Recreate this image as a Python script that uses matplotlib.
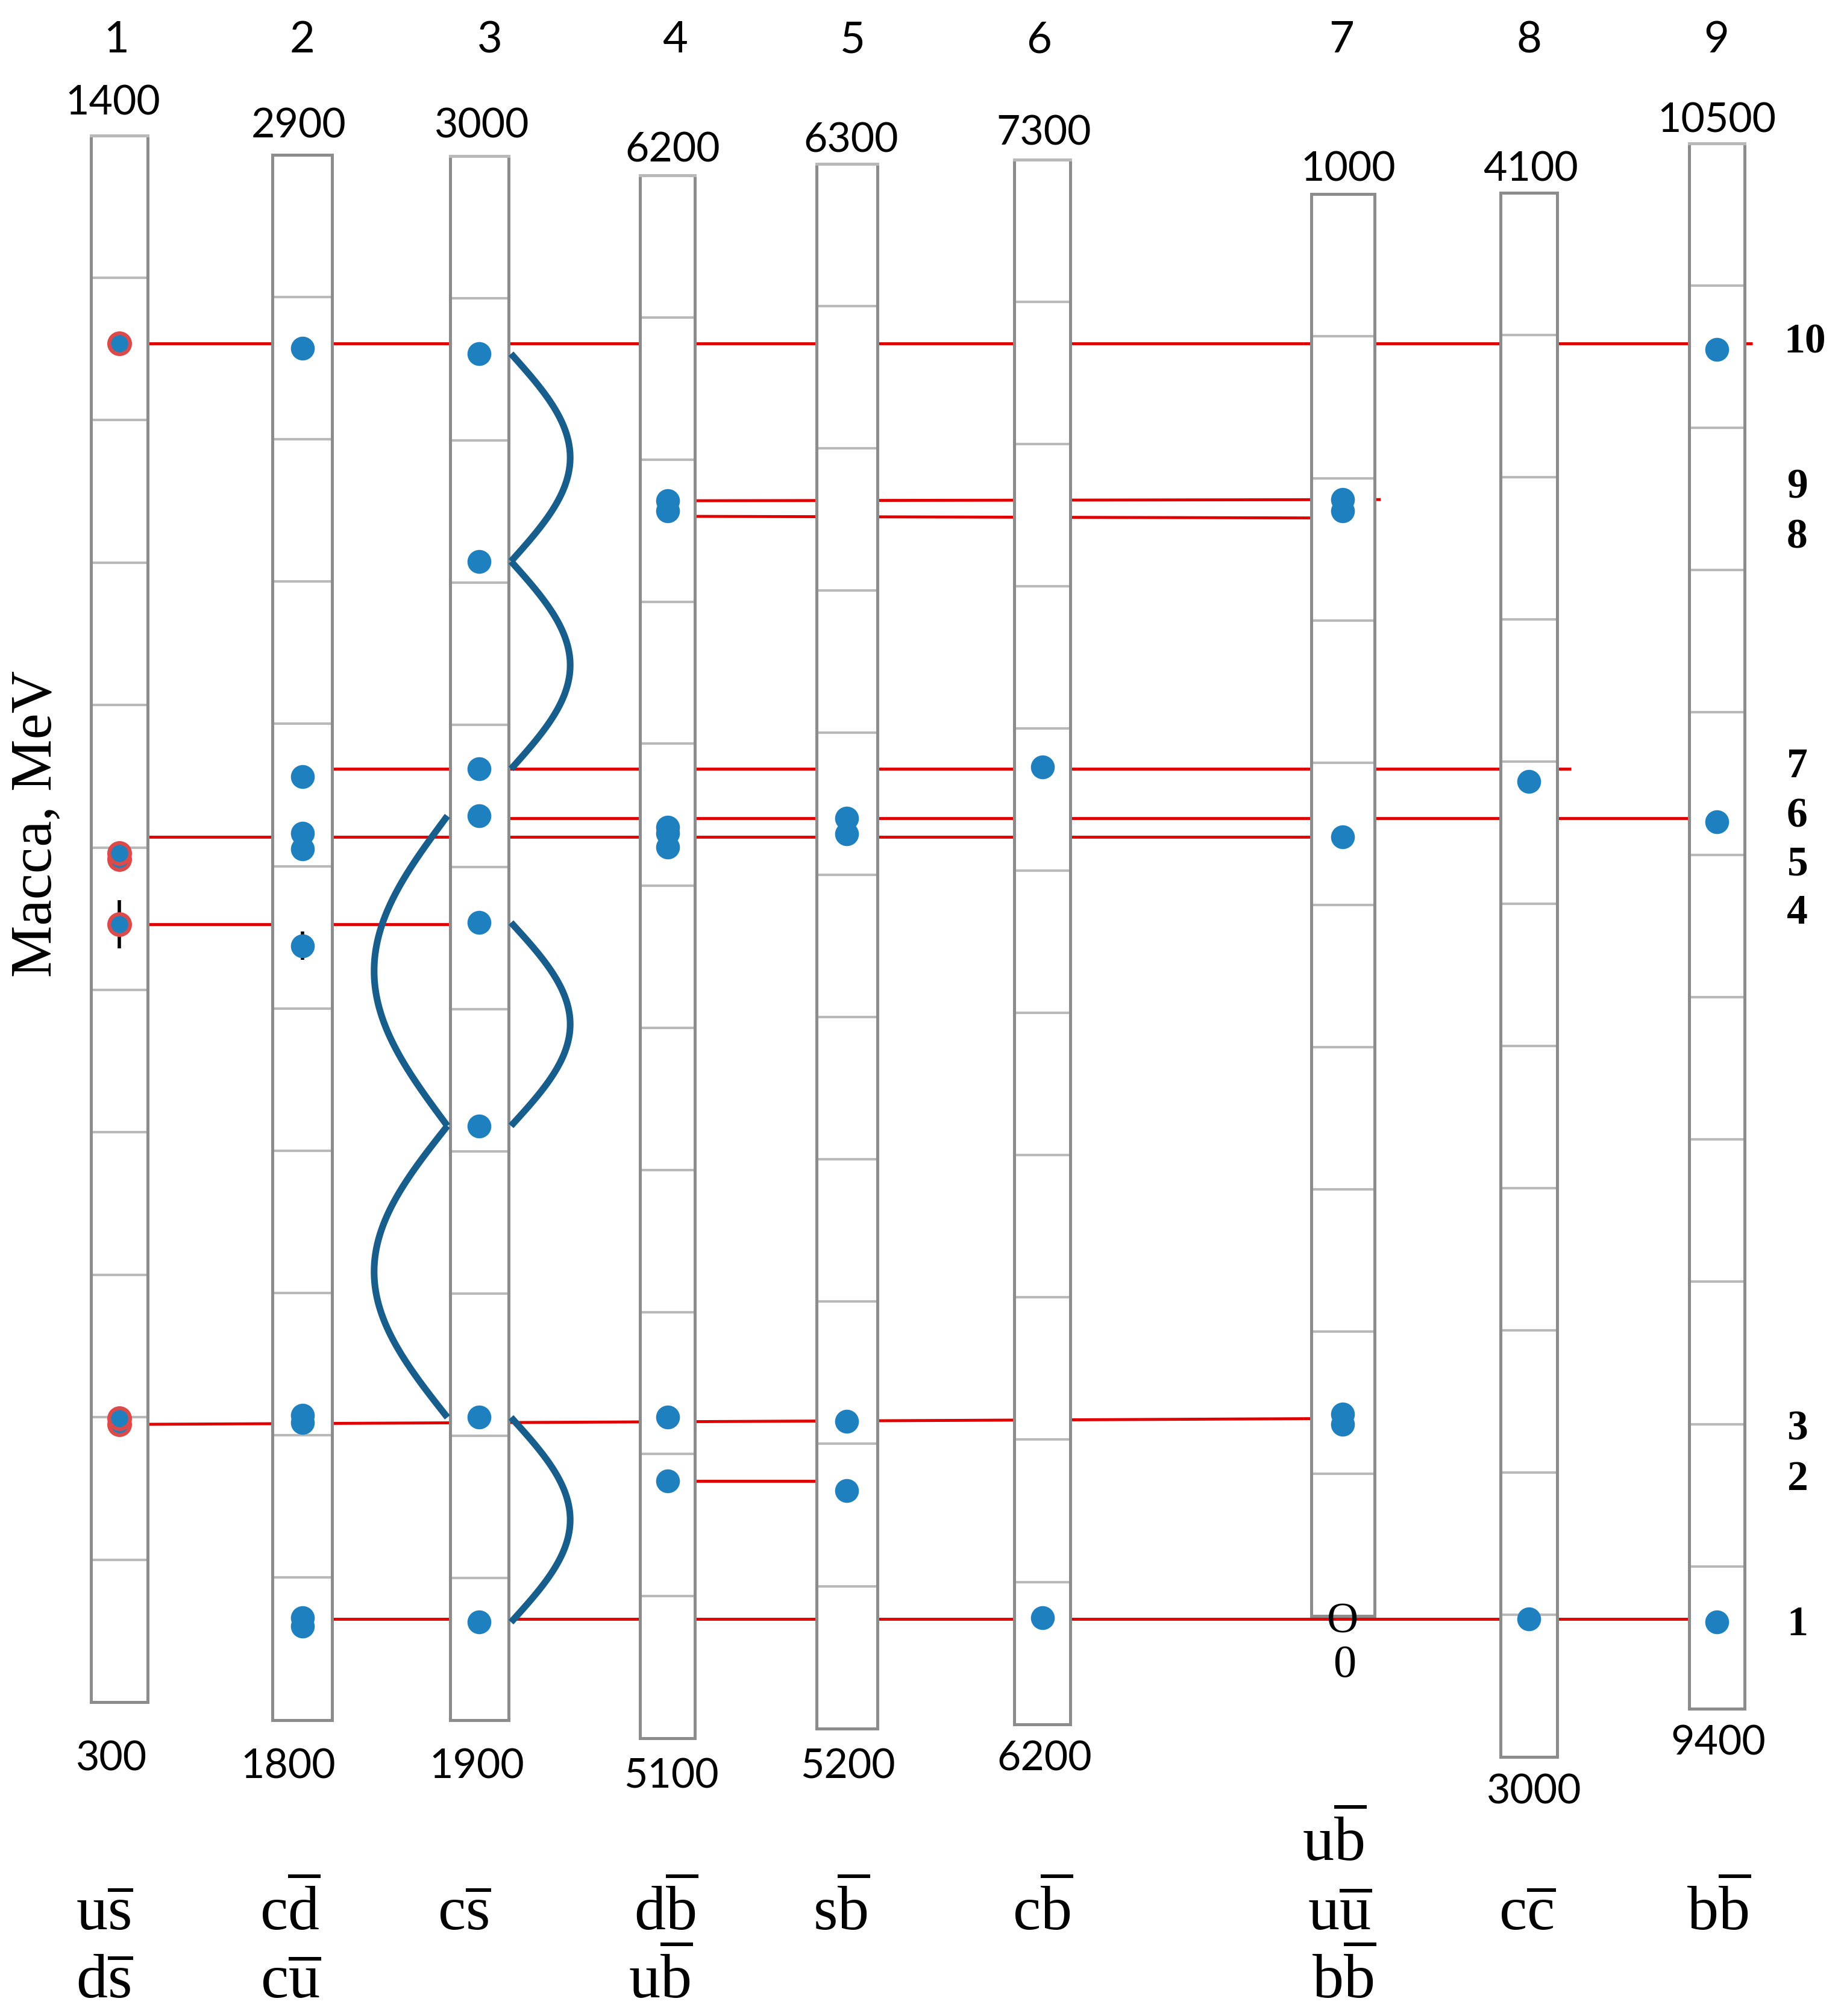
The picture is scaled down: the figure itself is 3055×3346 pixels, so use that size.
import numpy as np
import matplotlib
matplotlib.use("Agg")
import matplotlib.pyplot as plt

plt.rcParams["mathtext.fontset"] = "custom"
plt.rcParams["mathtext.rm"] = "Liberation Serif"
plt.rcParams["mathtext.it"] = "Liberation Serif:italic"
plt.rcParams["mathtext.bf"] = "Liberation Serif:bold"

# ---------------------------------------------------------------- data
col_ids = ["1", "2", "3", "4", "5", "6", "7", "8", "9"]
mass_lo = [300, 1800, 1900, 5100, 5200, 6200, 0, 3000, 9400]
mass_hi = [1400, 2900, 3000, 6200, 6300, 7300, 1000, 4100, 10500]
top_labels = ["1400", "2900", "3000", "6200", "6300", "7300", "1000", "4100", "10500"]
bottom_labels = ["300", "1800", "1900", "5100", "5200", "6200", "0", "3000", "9400"]

# meson masses (MeV) in each column
states = [
    [1254, 896, 892, 846, 499, 495],
    [2764, 2463, 2423, 2412, 2344, 2014, 2009, 1872, 1866],
    [2861, 2715, 2569, 2536, 2461, 2318, 2113, 1969],
    [5971, 5964, 5741, 5737, 5727, 5326, 5281],
    [5840, 5829, 5416, 5367],
    [6873, 6275],
    [785, 777, 548, 142, 135],
    [3686, 3097],
    [10355, 10023, 9461],
]
err_col = [0, 1]
err_mass = [846, 2344]
err_half = [17, 10]

quarks_top = ["", "", "", "", "", "", "ub", "", ""]
quarks_mid = ["us", "cd", "cs", "db", "sb", "cb", "uu", "cc", "bb"]
quarks_bot = ["ds", "cu", "", "ub", "", "", "bb", "", ""]

# level lines: first / last column and (column, mass) anchors at both ends
level_names = ["10", "9", "8", "7", "6", "5", "4", "3", "2", "1"]
level_from = [0, 3, 3, 1, 2, 0, 0, 0, 3, 1]
level_to = [8, 6, 6, 7, 8, 6, 2, 6, 4, 8]
level_anchor_a = [(0, 1254), (3, 5971), (3, 5960), (2, 2569), (4, 5840),
                  (6, 548), (0, 846), (0, 495), (3, 5281), (7, 3097)]
level_anchor_b = [(0, 1254), (6, 785), (6, 772), (2, 2569), (4, 5840),
                  (6, 548), (0, 846), (6, 139), (3, 5281), (7, 3097)]

# transitions in the c s-bar column, drawn as arcs
arc_lo = [1969, 2318, 2569, 2715, 2113, 2318]
arc_hi = [2113, 2461, 2715, 2861, 2318, 2536]
arc_side = [1, 1, 1, 1, -1, -1]

# -------------------------------------------------------------- layout
W, H = 1432, 1568  # layout units
col_x0 = [71, 212, 350, 498, 635, 789, 1020, 1167, 1314]
col_x1 = [115, 258.5, 395.5, 540.5, 682.5, 832.5, 1069, 1211, 1357]
col_y0 = [105.3, 120.3, 121.4, 136.4, 127.3, 124, 150.7, 149.8, 111.3]
col_y1 = [1323.8, 1337.7, 1338, 1352, 1344.3, 1341, 1257, 1366.6, 1329]
top_dark = [False, True, False, False, False, False, True, True, False]

id_x = [90.4, 235, 380.8, 525, 663, 808, 1043.6, 1189.6, 1335]
top_lbl_x = [88, 232.3, 374.5, 523, 662, 812, 1048.6, 1190.8, 1335.4]
top_lbl_y = [89.5, 107.1, 107.1, 126, 118.5, 112.5, 140.6, 140.6, 103]
bot_lbl_x = [86.5, 224.2, 371, 522, 659.6, 812.6, 1045.7, 1193, 1336.5]
bot_lbl_y = [1377, 1383, 1383, 1390.8, 1383, 1377, 1304.2, 1403, 1365]
q_top_x = [0, 0, 0, 0, 0, 0, 1038, 0, 0]
q_mid_x = [81, 225.3, 361, 518, 654.3, 811, 1042, 1187.8, 1337.1]
q_bot_x = [81, 226, 0, 514, 0, 0, 1045.5, 0, 0]
level_lbl_y = [274.3, 387.4, 426.4, 604.7, 643.1, 680.6, 718.5, 1120, 1159, 1272]
level_overshoot = [6, 5, -15, 11, -15, 1, -15, -15, -15, -15]

BLUE = "#1f80c0"
RED = "#e00000"
DARK = "#175e8d"
EDGE = "#8c8c8c"
GRID = "#b9b9b9"

fig = plt.figure(figsize=(30.55, 33.46), dpi=100, facecolor="white")

under = fig.add_axes([0, 0, 1, 1])
under.set_xlim(0, W)
under.set_ylim(H, 0)
under.axis("off")
under.set_zorder(1)

over = fig.add_axes([0, 0, 1, 1])
over.set_xlim(0, W)
over.set_ylim(H, 0)
over.axis("off")
over.set_zorder(3)

cols = []
for i in range(len(col_ids)):
    x0, x1, y0, y1 = col_x0[i], col_x1[i], col_y0[i], col_y1[i]
    ax = fig.add_axes([x0 / W, 1 - y1 / H, (x1 - x0) / W, (y1 - y0) / H])
    ax.set_zorder(2)
    ax.set_facecolor("white")
    ax.set_xlim(0, 1)
    ax.set_ylim(mass_lo[i], mass_hi[i])
    ax.set_xticks([])
    ax.set_yticks(np.arange(mass_lo[i] + 100, mass_hi[i], 100))
    ax.tick_params(axis="y", length=0, labelleft=False)
    ax.grid(axis="y", color=GRID, lw=3)
    for name, s in ax.spines.items():
        s.set_linewidth(3.6)
        s.set_color(EDGE)
    if not top_dark[i]:
        ax.spines["top"].set_color(GRID)
    cols.append(ax)

for c, m, e in zip(err_col, err_mass, err_half):
    cols[c].errorbar(0.5, m, yerr=e, fmt="none", ecolor="black",
                     elinewidth=4, capsize=0, zorder=3)

for i, ax in enumerate(cols):
    m = np.sort(states[i])
    if i == 0:
        ax.plot(np.full(len(m), 0.5), m, "o", ms=25, mfc=BLUE, mec="#dc4a4a",
                mew=4.5, clip_on=False, zorder=4)
    else:
        ax.plot(np.full(len(m), 0.5), m, "o", ms=27, mfc=BLUE, mec=BLUE,
                mew=1.5, clip_on=False, zorder=4)


def to_layout(ax, m):
    disp = ax.transData.transform((0.5, m))
    return over.transData.inverted().transform(disp)[1]


# level lines (behind the columns)
for k in range(len(level_names)):
    ca, ma = level_anchor_a[k]
    cb, mb = level_anchor_b[k]
    xa = col_x1[level_from[k]]
    xb = col_x1[level_to[k]] + level_overshoot[k]
    under.plot([xa, xb], [to_layout(cols[ca], ma), to_layout(cols[cb], mb)],
               color=RED, lw=3.5, solid_capstyle="butt")

# arcs beside column 3
t = np.linspace(0, 1, 120)
bulge = np.sin(np.pi * t)
for lo, hi, side in zip(arc_lo, arc_hi, arc_side):
    ylo = to_layout(cols[2], lo)
    yhi = to_layout(cols[2], hi)
    if side > 0:
        edge, amp = col_x1[2] + 2, 46
    else:
        edge, amp = col_x0[2] - 2, 57
    over.plot(edge + side * amp * bulge, ylo + (yhi - ylo) * t,
              color=DARK, lw=8, solid_capstyle="butt")

sans = ["Lato", "DejaVu Sans"]
serif = ["Liberation Serif", "DejaVu Serif"]

for i in range(len(col_ids)):
    over.text(id_x[i], 40.8, col_ids[i], ha="center", va="baseline",
              fontsize=52, family=sans)
    over.text(top_lbl_x[i], top_lbl_y[i], top_labels[i], ha="center",
              va="baseline", fontsize=49, family=sans)
    bfam = serif if i == 6 else sans
    over.text(bot_lbl_x[i], bot_lbl_y[i], bottom_labels[i], ha="center",
              va="baseline", fontsize=55 if i == 6 else 49, family=bfam)

over.text(1044.2, 1269.9, "O", ha="center", va="baseline", fontsize=52,
          family=serif)


def qq(pair):
    return r"$\mathrm{%s}\overline{\mathrm{%s}}$" % (pair[0], pair[1])


for i in range(len(col_ids)):
    if quarks_top[i]:
        over.text(q_top_x[i], 1447, qq(quarks_top[i]), ha="center",
                  va="baseline", fontsize=75)
    over.text(q_mid_x[i], 1501, qq(quarks_mid[i]), ha="center",
              va="baseline", fontsize=75)
    if quarks_bot[i]:
        over.text(q_bot_x[i], 1554, qq(quarks_bot[i]), ha="center",
                  va="baseline", fontsize=75)

for name, y in zip(level_names, level_lbl_y):
    over.text(1404 if name == "10" else 1398, y, name, ha="center",
              va="baseline", fontsize=50, fontweight="bold", family=serif)

over.text(29, 641, "Масса, MeV", rotation=90, ha="center", va="center",
          fontsize=70, family=serif)

fig.savefig("out.png", dpi=100)
